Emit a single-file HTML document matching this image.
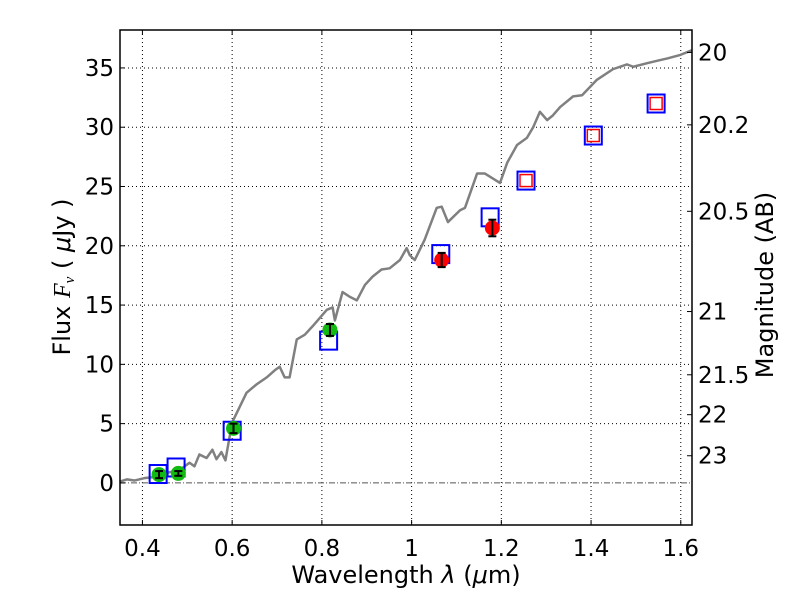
<!DOCTYPE html>
<html><head><meta charset="utf-8"><style>
html,body{margin:0;padding:0;background:#fff}
svg{display:block;font-family:"DejaVu Sans","Liberation Sans",sans-serif}
</style></head><body>
<svg id="chart" width="800" height="600" viewBox="0 0 800 600" xmlns="http://www.w3.org/2000/svg">
<rect width="800" height="600" fill="#fff"/>
<g id="grid"></g>
<g id="plot"></g>
<g id="axes"></g>
<text x="406" y="583" font-size="24" text-anchor="middle">Wavelength  <tspan font-style="italic">λ</tspan> (<tspan font-style="italic">μ</tspan>m)</text>
<text transform="translate(70,277) rotate(-90)" font-size="24" text-anchor="middle">Flux  <tspan font-style="italic" font-family="Liberation Serif, serif">F<tspan font-size="15" dy="4">ν</tspan></tspan><tspan dy="-4">  ( </tspan><tspan font-style="italic">μ</tspan>Jy )</text>
<text transform="translate(773,285) rotate(-90)" font-size="24" text-anchor="middle">Magnitude (AB)</text>
</svg>
<script>
const xTicks=[0.4,0.6,0.8,1,1.2,1.4,1.6];
const xTickLabels=["0.4","0.6","0.8","1","1.2","1.4","1.6"];
const yTicks=[0,5,10,15,20,25,30,35];
const magTicks=[20,20.2,20.5,21,21.5,22,23];
const magTickLabels=["20","20.2","20.5","21","21.5","22","23"];
const specWave=[0.349,0.366,0.382,0.404,0.427,0.449,0.483,0.505,0.516,0.527,0.543,0.556,0.565,0.576,0.585,0.6,0.632,0.654,0.677,0.695,0.706,0.717,0.728,0.744,0.762,0.779,0.811,0.824,0.829,0.846,0.862,0.878,0.896,0.913,0.933,0.951,0.974,0.989,0.996,1.007,1.029,1.056,1.067,1.081,1.108,1.119,1.146,1.163,1.197,1.213,1.235,1.257,1.271,1.286,1.302,1.315,1.331,1.36,1.38,1.413,1.449,1.48,1.494,1.525,1.547,1.57,1.599,1.625];
const specFlux=[0.1,0.3,0.2,0.4,0.5,0.8,1.1,1.7,1.4,2.4,2.1,2.8,2.0,2.6,1.9,5.1,7.6,8.3,8.9,9.5,9.8,8.9,8.9,12.1,12.5,13.2,14.6,14.8,13.7,16.1,15.7,15.4,16.7,17.4,18.0,18.1,18.8,19.8,19.2,18.8,20.5,23.2,23.3,22.0,23.0,23.2,26.1,26.1,25.3,27.0,28.5,29.1,30.0,31.3,30.6,31.0,31.7,32.6,32.7,34.0,34.9,35.3,35.1,35.4,35.6,35.8,36.1,36.5];
const modelWave=[0.435,0.475,0.6,0.815,1.065,1.175,1.255,1.405,1.545];
const modelFlux=[0.75,1.3,4.4,12.0,19.3,22.4,25.5,29.3,32.0];
const detWave=[0.437,0.48,0.603,0.818];
const detFlux=[0.7,0.8,4.6,12.9];
const detErr=[0.3,0.2,0.4,0.5];
const irWave=[1.067,1.18];
const irFlux=[18.8,21.5];
const irErr=[0.6,0.7];
const ulWave=[1.255,1.405,1.545];
const ulFlux=[25.5,29.3,32.0];

const L=120,R=692,T=30,B=525,XMIN=0.35,XMAX=1.625,YMIN=-3.55,YMAX=38.2;
const sx=v=>L+(v-XMIN)/(XMAX-XMIN)*(R-L);
const sy=v=>B-(v-YMIN)/(YMAX-YMIN)*(B-T);
const NS="http://www.w3.org/2000/svg";
function mk(tag,attrs,parent){const e=document.createElementNS(NS,tag);for(const k in attrs)e.setAttribute(k,attrs[k]);parent.appendChild(e);return e;}
const grid=document.getElementById('grid'),plot=document.getElementById('plot'),axes=document.getElementById('axes');

xTicks.forEach((t,i)=>{
  const g=mk('line',{x1:sx(t),x2:sx(t),y1:T,y2:B,stroke:'#000','stroke-width':1,'stroke-dasharray':'1,3'},grid);
  
  
  mk('line',{x1:sx(t),x2:sx(t),y1:B,y2:B-5,stroke:'#000'},axes);
  mk('line',{x1:sx(t),x2:sx(t),y1:T,y2:T+5,stroke:'#000'},axes);
  const tx=mk('text',{x:sx(t),y:B+31,'font-size':23,'text-anchor':'middle'},axes);
  tx.textContent=xTickLabels[i];
  
  
});
yTicks.forEach(t=>{
  if(t!==0){const g=mk('line',{x1:L,x2:R,y1:sy(t),y2:sy(t),stroke:'#000','stroke-width':1,'stroke-dasharray':'1,3'},grid);
  
  }
  mk('line',{x1:L,x2:L+5,y1:sy(t),y2:sy(t),stroke:'#000'},axes);
  const tx=mk('text',{x:L-6,y:sy(t)+8,'font-size':23,'text-anchor':'end'},axes);
  tx.textContent=String(t);
  
  
});
magTicks.forEach((m,i)=>{
  const f=Math.pow(10,(23.9-m)/2.5),y=sy(f);
  mk('line',{x1:R-5,x2:R,y1:y,y2:y,stroke:'#000'},axes);
  const tx=mk('text',{x:R+6,y:y+8,'font-size':23},axes);
  tx.textContent=magTickLabels[i];
  
  
});
const zl=mk('line',{x1:L,x2:R,y1:sy(0),y2:sy(0),stroke:'#555','stroke-width':1,'stroke-dasharray':'6,2,1,2'},plot);


const sp=mk('polyline',{points:specWave.map((w,i)=>sx(w)+','+sy(specFlux[i])).join(' '),fill:'none',stroke:'#808080','stroke-width':2.5,'stroke-linejoin':'round'},plot);


modelWave.forEach((w,i)=>{
  const r=mk('rect',{x:sx(w)-8.5,y:sy(modelFlux[i])-9,width:17,height:18,fill:'none',stroke:'#0000ff','stroke-width':2},plot);
  
  
});
ulWave.forEach((w,i)=>{
  const r=mk('rect',{x:sx(w)-6,y:sy(ulFlux[i])-6,width:12,height:12,fill:'none',stroke:'#ff0000','stroke-width':1.5},plot);
  
  
});
function pts(ws,fs,es,col,name){
  ws.forEach((w,i)=>{
    const c=mk('circle',{cx:sx(w),cy:sy(fs[i]),r:7.5,fill:col},plot);
    
    
    const x=sx(w),y1=sy(fs[i]+es[i]),y2=sy(fs[i]-es[i]);
    mk('line',{x1:x,x2:x,y1:y1,y2:y2,stroke:'#000','stroke-width':2},plot);
    mk('line',{x1:x-4,x2:x+4,y1:y1,y2:y1,stroke:'#000','stroke-width':2},plot);
    mk('line',{x1:x-4,x2:x+4,y1:y2,y2:y2,stroke:'#000','stroke-width':2},plot);
  });
}
pts(detWave,detFlux,detErr,'#11bb11','optical-detection');
pts(irWave,irFlux,irErr,'#ff0000','ir-detection');
const fr=mk('rect',{x:L,y:T,width:R-L,height:B-T,fill:'none',stroke:'#000','stroke-width':1.5},axes);


</script>
</body></html>
